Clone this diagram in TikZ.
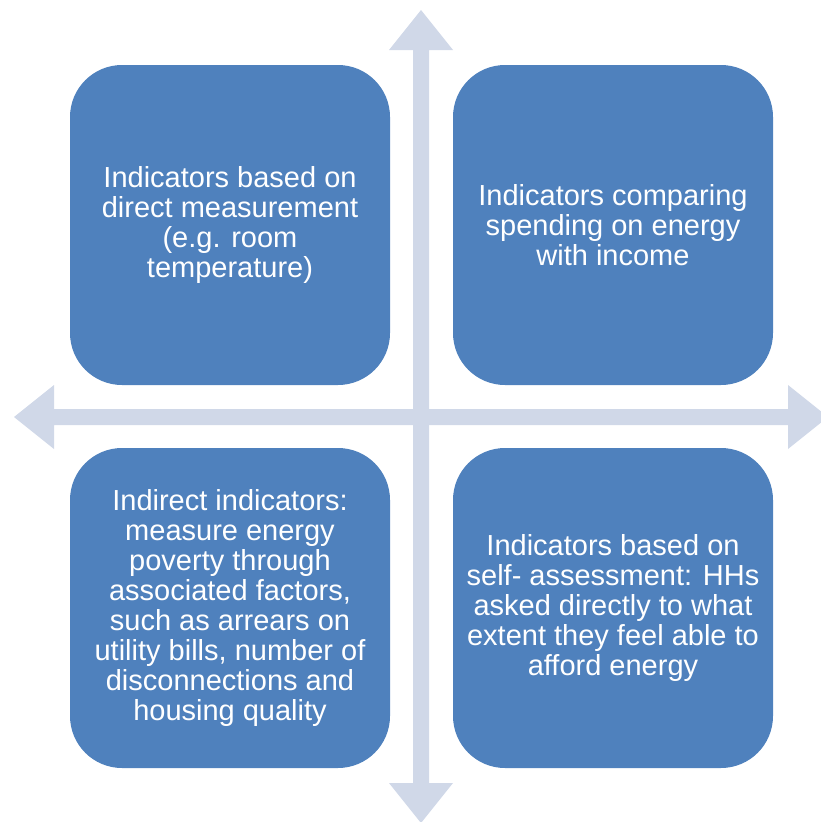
\documentclass[tikz,border=0pt]{standalone}
\usepackage{fontspec}
\setmainfont{Liberation Sans}
\definecolor{boxblue}{RGB}{79,129,189}
\definecolor{arrowgray}{RGB}{208,216,232}
\tikzset{
  quad/.style={rectangle, rounded corners=52pt, fill=boxblue, draw=none,
    minimum width=320pt, minimum height=320pt, inner sep=4pt,
    text=white, align=center,
    font=\fontsize{29}{30}\selectfont},
  axisarrow/.style={fill=arrowgray, draw=none}
}
\begin{document}
\begin{tikzpicture}[x=1pt,y=-1pt]
\useasboundingbox (0,0) rectangle (820,822);
% vertical double arrow
\fill[axisarrow] (421,10) -- (453,50) -- (429,50) -- (429,783) -- (453,783) -- (421,823)
  -- (389,783) -- (413,783) -- (413,50) -- (389,50) -- cycle;
% horizontal double arrow
\fill[axisarrow] (14,417) -- (54,385) -- (54,409) -- (788,409) -- (788,385) -- (828,417)
  -- (788,449) -- (788,425) -- (54,425) -- (54,449) -- cycle;
% quadrant boxes
\node[quad] (tl) at (230,225) {Indicators based on\\direct measurement\\(e.g. room\\temperature)};
\node[quad] (tr) at (613,225) {Indicators comparing\\spending on energy\\with income};
\node[quad] (bl) at (230,608) {Indirect indicators:\\measure energy\\poverty through\\associated factors,\\such as arrears on\\utility bills, number of\\disconnections and\\housing quality};
\node[quad] (br) at (613,608) {Indicators based on\\self- assessment: HHs\\asked directly to what\\extent they feel able to\\afford energy};
\end{tikzpicture}
\end{document}
